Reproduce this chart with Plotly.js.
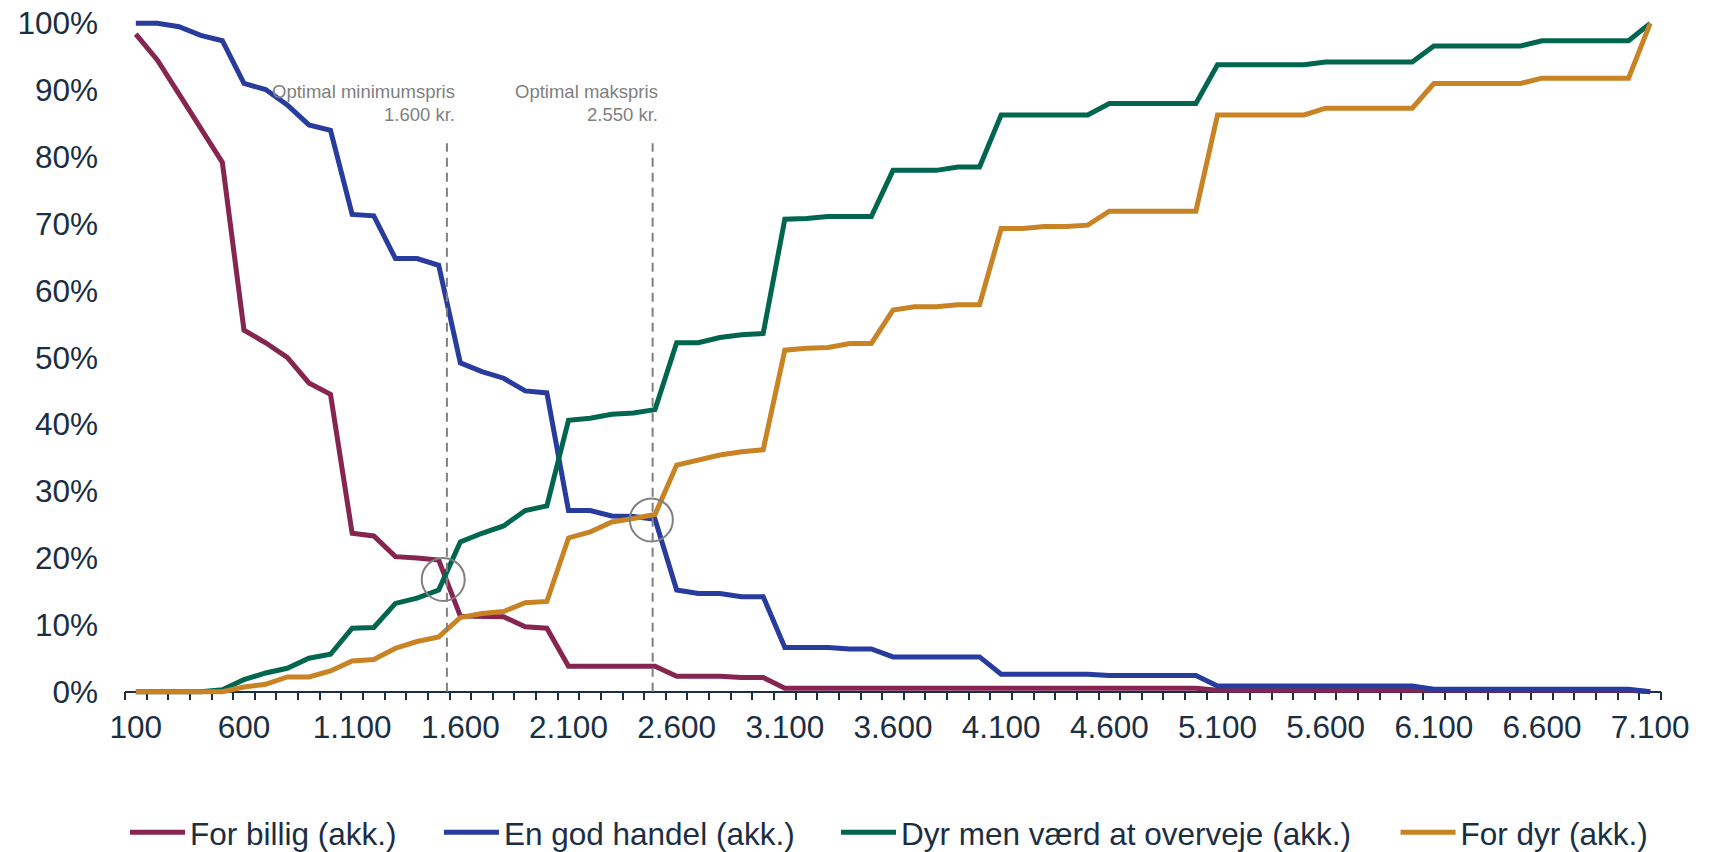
<!DOCTYPE html>
<html>
<head>
<meta charset="utf-8">
<script src="https://cdn.plot.ly/plotly-3.0.1.min.js"></script>
<style>
  html, body { margin: 0; padding: 0; background: #ffffff; }
  #chart { width: 1716px; height: 852px; }
</style>
</head>
<body>
<div id="chart"></div>
<script>
// Prices (kr.)
var prices = [100,200,300,400,500,600,700,800,900,1000,
  1100,1200,1300,1400,1500,1600,1700,1800,1900,2000,
  2100,2200,2300,2400,2500,2600,2700,2800,2900,3000,
  3100,3200,3300,3400,3500,3600,3700,3800,3900,4000,
  4100,4200,4300,4400,4500,4600,4700,4800,4900,5000,
  5100,5200,5300,5400,5500,5600,5700,5800,5900,6000,
  6100,6200,6300,6400,6500,6600,6700,6800,6900,7000,
  7100];

// Cumulative shares
var forBillig = [0.984,0.945,0.894,0.843,0.792,0.541,0.522,0.500,0.462,0.445,
  0.237,0.233,0.202,0.200,0.197,0.113,0.112,0.112,0.097,0.095,
  0.038,0.038,0.038,0.038,0.038,0.023,0.023,0.023,0.021,0.021,
  0.005,0.005,0.005,0.005,0.005,0.005,0.005,0.005,0.005,0.005,
  0.005,0.005,0.005,0.005,0.005,0.005,0.005,0.005,0.005,0.005,
  0.002,0.002,0.002,0.002,0.002,0.002,0.002,0.002,0.002,0.002,
  0.002,0.002,0.002,0.002,0.002,0.002,0.002,0.002,0.002,0.002,
  0.000];

var enGodHandel = [1.000,1.000,0.995,0.982,0.974,0.910,0.901,0.878,0.848,0.840,
  0.714,0.712,0.648,0.648,0.638,0.492,0.479,0.469,0.450,0.447,
  0.271,0.271,0.263,0.262,0.258,0.152,0.147,0.147,0.142,0.142,
  0.066,0.066,0.066,0.064,0.064,0.052,0.052,0.052,0.052,0.052,
  0.026,0.026,0.026,0.026,0.026,0.024,0.024,0.024,0.024,0.024,
  0.0085,0.0085,0.0085,0.0085,0.0085,0.0085,0.0085,0.0085,0.0085,0.0085,
  0.0035,0.0035,0.0035,0.0035,0.0035,0.0035,0.0035,0.0035,0.0035,0.0035,
  0.000];

var dyrMenVaerd = [0.000,0.000,0.000,0.000,0.003,0.018,0.028,0.035,0.050,0.056,
  0.095,0.096,0.132,0.140,0.152,0.224,0.237,0.248,0.271,0.278,
  0.406,0.409,0.415,0.417,0.422,0.522,0.522,0.530,0.534,0.536,
  0.707,0.708,0.711,0.711,0.711,0.780,0.780,0.780,0.785,0.785,
  0.863,0.863,0.863,0.863,0.863,0.880,0.880,0.880,0.880,0.880,
  0.938,0.938,0.938,0.938,0.938,0.942,0.942,0.942,0.942,0.942,
  0.966,0.966,0.966,0.966,0.966,0.974,0.974,0.974,0.974,0.974,
  1.000];

var forDyr = [0.000,0.000,0.000,0.000,0.000,0.007,0.011,0.022,0.022,0.031,
  0.046,0.048,0.065,0.075,0.082,0.111,0.117,0.120,0.133,0.135,
  0.230,0.239,0.254,0.259,0.265,0.339,0.346,0.354,0.359,0.362,
  0.511,0.514,0.515,0.521,0.521,0.571,0.576,0.576,0.579,0.579,
  0.693,0.693,0.696,0.696,0.698,0.719,0.719,0.719,0.719,0.719,
  0.863,0.863,0.863,0.863,0.863,0.873,0.873,0.873,0.873,0.873,
  0.910,0.910,0.910,0.910,0.910,0.918,0.918,0.918,0.918,0.918,
  1.000];

var seriesNames = ["For billig (akk.)", "En god handel (akk.)", "Dyr men værd at overveje (akk.)", "For dyr (akk.)"];

// Tick labels
var tickVals = [100,600,1100,1600,2100,2600,3100,3600,4100,4600,5100,5600,6100,6600,7100];
var tickText = ["100","600","1.100","1.600","2.100","2.600","3.100","3.600","4.100","4.600","5.100","5.600","6.100","6.600","7.100"];

// Reference markers (optimal price points, as drawn)
var markerLineX = [1538, 2489];
var markerLabelX = [1583, 2522];
var markerLabels = [["Optimal minimumspris", "1.600 kr."], ["Optimal makspris", "2.550 kr."]];
var crossX = [1521, 2483];
var crossY = [0.168, 0.257];

var colors = ["#86254f", "#283c9e", "#00664f", "#c88324"];
var textColor = "#1a2e44";
var grey = "#808080";
var font = "Arial, 'Liberation Sans', sans-serif";
var fs = 31.5;

var legendIds = ["legend", "legend2", "legend3", "legend4"];
var legendX = [0, 0.2044, 0.4629, 0.8272];

var allSeries = [forBillig, enGodHandel, dyrMenVaerd, forDyr];
var traces = allSeries.map(function (vals, k) {
  return {
    type: "scatter",
    mode: "lines",
    x: prices,
    y: vals,
    name: seriesNames[k],
    legend: legendIds[k],
    line: { color: colors[k], width: 5 },
    hoverinfo: "x+y+name"
  };
});

// category boundaries for minor ticks
var step = prices[1] - prices[0];
var boundaries = prices.map(function (p) { return p - step / 2; });
boundaries.push(prices[prices.length - 1] + step / 2);

var shapes = [];
markerLineX.forEach(function (x) {
  shapes.push({
    type: "line", xref: "x", yref: "y",
    x0: x, x1: x, y0: 0, y1: 0.8205,
    line: { color: grey, width: 2, dash: "9px,6px" }
  });
});
crossX.forEach(function (x, k) {
  shapes.push({
    type: "circle", xref: "x", yref: "y",
    xsizemode: "pixel", ysizemode: "pixel",
    xanchor: x, yanchor: crossY[k],
    x0: -21.5, x1: 21.5, y0: -21.5, y1: 21.5,
    line: { color: grey, width: 2 }
  });
});

var annotations = [];
markerLabels.forEach(function (lines, k) {
  annotations.push({
    xref: "x", yref: "y", x: markerLabelX[k], y: 0.8977,
    xanchor: "right", yanchor: "middle", showarrow: false,
    text: lines[0], font: { family: font, size: 18.5, color: grey }
  });
  annotations.push({
    xref: "x", yref: "y", x: markerLabelX[k], y: 0.8638,
    xanchor: "right", yanchor: "middle", showarrow: false,
    text: lines[1], font: { family: font, size: 18.5, color: grey }
  });
});

var layout = {
  width: 1716, height: 852,
  paper_bgcolor: "#ffffff", plot_bgcolor: "#ffffff",
  margin: { l: 125, r: 55, t: 20, b: 157, pad: 0, autoexpand: false },
  font: { family: font, size: fs, color: textColor },
  showlegend: true,
  xaxis: {
    type: "linear",
    range: [prices[0] - step / 2, prices[prices.length - 1] + step / 2],
    anchor: "free", position: 0.005 / 1.01,
    tickmode: "array", tickvals: tickVals, ticktext: tickText,
    ticks: "", showgrid: false, zeroline: false,
    showline: true, linecolor: textColor, linewidth: 1.5,
    layer: "below traces",
    ticklabelstandoff: 8,
    tickfont: { family: font, size: fs, color: textColor },
    minor: {
      tickmode: "array", tickvals: boundaries,
      ticks: "outside", ticklen: 8, tickwidth: 1.5, tickcolor: textColor,
      showgrid: false
    }
  },
  yaxis: {
    range: [-0.005, 1.005],
    tickmode: "array", tickvals: [0,0.1,0.2,0.3,0.4,0.5,0.6,0.7,0.8,0.9,1.0],
    tickformat: ".0%",
    ticks: "", showgrid: false, zeroline: false, showline: false,
    ticklabelstandoff: 26,
    tickfont: { family: font, size: fs, color: textColor }
  },
  shapes: shapes,
  annotations: annotations
};

legendIds.forEach(function (id, k) {
  layout[id] = {
    orientation: "h", x: legendX[k], xanchor: "left", y: -0.2035, yanchor: "middle",
    font: { family: font, size: fs, color: textColor },
    itemwidth: 55, bgcolor: "rgba(0,0,0,0)"
  };
});

Plotly.newPlot("chart", traces, layout, { displayModeBar: false, responsive: false });
</script>
</body>
</html>
